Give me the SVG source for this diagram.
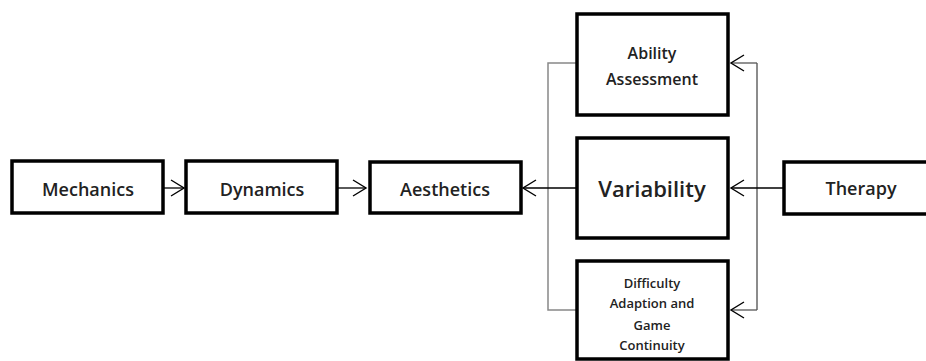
<svg xmlns="http://www.w3.org/2000/svg" width="926" height="361" viewBox="0 0 926 361">
<style>
.box{fill:#fff;stroke:#000;stroke-width:3.5}
.t{font-family:"Open Sans","Liberation Sans",sans-serif;font-weight:600;fill:#222;text-anchor:middle}
.c{fill:none;stroke:#000;stroke-width:1.3}
.g{fill:none;stroke:#888;stroke-width:1.5}
</style>
<defs>
<marker id="ah" markerUnits="userSpaceOnUse" markerWidth="20" markerHeight="20" viewBox="0 0 20 20" refX="16" refY="10" orient="auto">
<path d="M3,2 L16,10 L3,18" fill="none" stroke="#000" stroke-width="1.4"/>
</marker>
</defs>
<rect width="926" height="361" fill="#fff"/>
<g id="connectors">
<polyline class="g" points="577,63 548,63 548,310 577,310"/>
<polyline class="g" style="stroke:#666" points="757,63 757,310"/>
<line class="c" x1="163" y1="188" x2="184" y2="188" marker-end="url(#ah)"/>
<line class="c" x1="337" y1="188" x2="366" y2="188" marker-end="url(#ah)"/>
<line class="c" x1="577" y1="188" x2="523" y2="188" marker-end="url(#ah)"/>
<line class="c" x1="784" y1="188" x2="731" y2="188" marker-end="url(#ah)"/>
<line class="c" style="stroke:#555" x1="757" y1="63" x2="731" y2="63" marker-end="url(#ah)"/>
<line class="c" style="stroke:#555" x1="757" y1="310" x2="731" y2="310" marker-end="url(#ah)"/>
</g>
<g id="mechanics">
<rect class="box" x="12" y="161" width="151" height="52"/>
<text class="t" x="88" y="196" font-size="18">Mechanics</text>
</g>
<g id="dynamics">
<rect class="box" x="186" y="161" width="151" height="52"/>
<text class="t" x="262" y="196" font-size="18">Dynamics</text>
</g>
<g id="aesthetics">
<rect class="box" x="370" y="162" width="151" height="51"/>
<text class="t" x="445" y="196" font-size="18">Aesthetics</text>
</g>
<g id="ability">
<rect class="box" x="577" y="14" width="151" height="101"/>
<text class="t" x="652" y="59" font-size="16">Ability</text>
<text class="t" x="652" y="85" font-size="16">Assessment</text>
</g>
<g id="variability">
<rect class="box" x="577" y="138" width="151" height="100"/>
<text class="t" x="652" y="197" font-size="22">Variability</text>
</g>
<g id="difficulty">
<rect class="box" x="577" y="261" width="151" height="98"/>
<text class="t" x="652" y="288" font-size="13">Difficulty</text>
<text class="t" x="652" y="308" font-size="13">Adaption and</text>
<text class="t" x="652" y="330" font-size="13">Game</text>
<text class="t" x="652" y="350" font-size="13">Continuity</text>
</g>
<g id="therapy">
<rect class="box" x="784" y="162" width="150" height="52"/>
<text class="t" x="861" y="195" font-size="18">Therapy</text>
</g>
</svg>
